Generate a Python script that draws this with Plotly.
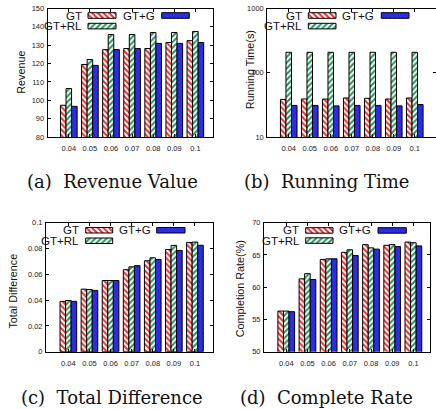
import plotly.graph_objects as go

# ---- data -------------------------------------------------------------
ratios = ["0.04", "0.05", "0.06", "0.07", "0.08", "0.09", "0.1"]

revenue_gt = [97.3, 119.5, 127.6, 128.2, 128.2, 131.5, 132.5]
revenue_rl = [106.4, 122.2, 135.8, 135.8, 136.9, 136.9, 137.5]
revenue_g = [96.7, 119.0, 127.6, 128.2, 131.0, 131.0, 131.5]

time_gt = [38.5, 39, 39, 40.5, 40, 39, 40.5]
time_rl = [208, 208, 208, 208, 208, 208, 208]
time_g = [31, 31, 30.5, 31, 31, 30.5, 32]

diff_gt = [0.0390, 0.0485, 0.0552, 0.0636, 0.0705, 0.0792, 0.0847]
diff_rl = [0.0397, 0.0482, 0.0552, 0.0658, 0.0728, 0.0824, 0.0850]
diff_g = [0.0390, 0.0475, 0.0552, 0.0667, 0.0715, 0.0785, 0.0825]

rate_gt = [56.3, 61.3, 64.3, 65.4, 66.6, 66.5, 67.0]
rate_rl = [56.3, 62.1, 64.4, 65.8, 66.1, 66.6, 66.9]
rate_g = [56.2, 61.2, 64.4, 64.9, 65.9, 66.3, 66.4]

series_names = ["GT", "GT+RL", "GT+G"]
y_titles = ["Revenue", "Running Time(s)", "Total Difference", "Completion Rate(%)"]
captions = ["(a)\u00a0\u00a0Revenue Value", "(b)\u00a0\u00a0Running Time",
            "(c)\u00a0\u00a0Total Difference", "(d)\u00a0\u00a0Complete Rate"]

W, H = 436, 409

RED, GREEN, BLUE = "#ee2b2b", "#23935a", "#2f2ff2"
patterns = {
    "GT": dict(shape="\\", fgcolor=RED, bgcolor="white", size=4, solidity=0.5, fillmode="replace"),
    "GT+RL": dict(shape="/", fgcolor=GREEN, bgcolor="white", size=4, solidity=0.5, fillmode="replace"),
    "GT+G": dict(shape="x", fgcolor="#1c1cb0", bgcolor=BLUE, size=3, solidity=0.25, fillmode="replace"),
}

# panel boxes in pixels: left, right, top, bottom, and x range in category units
panels = [
    dict(box=(47.7, 213.3, 8.5, 137.0), xr=[-1.0, 6.85]),
    dict(box=(267.3, 436.0, 8.5, 137.0), xr=[-1.02, 7.01]),
    dict(box=(46.0, 213.3, 222.7, 351.7), xr=[-1.06, 6.87]),
    dict(box=(264.0, 429.7, 222.7, 351.7), xr=[-1.05, 6.77]),
]
values = [
    (revenue_gt, revenue_rl, revenue_g),
    (time_gt, time_rl, time_g),
    (diff_gt, diff_rl, diff_g),
    (rate_gt, rate_rl, rate_g),
]
y_axes = [
    dict(range=[80, 150], dtick=10, type="linear"),
    dict(range=[1, 3], type="log", tickvals=[10, 100, 1000]),
    dict(range=[0, 0.1], type="linear", tickvals=[0, 0.02, 0.04, 0.06, 0.08, 0.1],
         ticktext=["0", "0.02", "0.04", "0.06", "0.08", "0.1"]),
    dict(range=[50, 70], dtick=5, type="linear"),
]

fig = go.Figure()
SANS = "Liberation Sans, Arial, sans-serif"
tick_font = dict(family=SANS, size=7.5, color="#222")
label_font = dict(family=SANS, size=10.8, color="#111")

for i, (panel, vals, yax) in enumerate(zip(panels, values, y_axes)):
    n = i + 1
    xa, ya = f"x{n}", f"y{n}"
    for name, v in zip(series_names, vals):
        fig.add_trace(go.Bar(
            x=ratios, y=v, name=name, xaxis=xa, yaxis=ya, showlegend=False,
            marker=dict(pattern=patterns[name], line=dict(color="black", width=1)),
        ))
    l, r, t, b = panel["box"]
    common = dict(showline=True, linecolor="black", linewidth=1, mirror="ticks",
                  ticks="inside", ticklen=3, tickcolor="black", tickfont=tick_font,
                  showgrid=False, zeroline=False, fixedrange=True)
    fig.layout[f"xaxis{n}"] = dict(domain=[l / W, min(r / W, 1.0)], anchor=ya,
                                   type="category", range=panel["xr"],
                                   ticklabelstandoff=4, **common)
    fig.layout[f"yaxis{n}"] = dict(domain=[1 - b / H, 1 - t / H], anchor=xa,
                                   ticklabelstandoff=1, **yax, **common)

# full-figure pixel frame used for legend keys
fig.update_layout(
    xaxis5=dict(domain=[0, 1], range=[0, W], visible=False, fixedrange=True, anchor="y5"),
    yaxis5=dict(domain=[0, 1], range=[H, 0], visible=False, fixedrange=True, anchor="x5"),
)

# legend layout per panel: (text right edge, key left, key right, key top, key bottom)
legend_rows = [
    {"GT": (83, 88, 116, 12.7, 18.3), "GT+RL": (83, 88, 116, 23.3, 28.9), "GT+G": (155.5, 161.7, 189.3, 12.7, 18.3)},
    {"GT": (303.3, 308.3, 336, 12.7, 18.3), "GT+RL": (303, 308.3, 336, 23.3, 28.9), "GT+G": (375, 381.3, 409, 12.7, 18.3)},
    {"GT": (80, 85.7, 112.7, 227.5, 233), "GT+RL": (80, 85.7, 112.7, 238, 243.5), "GT+G": (152, 156.7, 185, 227.5, 233)},
    {"GT": (300, 305.7, 333, 227.7, 233.2), "GT+RL": (301, 305.7, 333, 237.8, 243.3), "GT+G": (372, 378, 406.3, 227.7, 233.2)},
]
annotations = []
for rows in legend_rows:
    for name in series_names:
        tx, x0, x1, y0, y1 = rows[name]
        fig.add_trace(go.Scatter(
            x=[x0, x1, x1, x0, x0], y=[y0, y0, y1, y1, y0], xaxis="x5", yaxis="y5",
            mode="lines", fill="toself", fillpattern=patterns[name],
            line=dict(color="black", width=1), showlegend=False, hoverinfo="skip",
        ))
        annotations.append(dict(text=name, x=tx / W, y=1 - (y0 + y1) / 2 / H, xref="paper", yref="paper",
                                xanchor="right", yanchor="middle", showarrow=False, borderpad=0,
                                font=dict(family=SANS, size=11.5, color="#111")))

# y-axis titles
title_pos = [(20.7, 72), (250.3, 70), (13.3, 291.3), (240.3, 289)]
for text, (px, py) in zip(y_titles, title_pos):
    annotations.append(dict(text=text, x=px / W, y=1 - py / H, xref="paper", yref="paper",
                            xanchor="center", yanchor="middle", textangle=-90, showarrow=False,
                            font=label_font))

# panel captions
caption_pos = [(112, 181), (326, 181), (112, 397), (326, 397)]
for text, (px, py) in zip(captions, caption_pos):
    annotations.append(dict(text=text, x=px / W, y=1 - py / H, xref="paper", yref="paper",
                            xanchor="center", yanchor="middle", showarrow=False,
                            font=dict(family="DejaVu Serif, serif", size=18, color="#111")))

fig.update_layout(
    width=W, height=H, margin=dict(l=0, r=0, t=0, b=0),
    paper_bgcolor="white", plot_bgcolor="rgba(0,0,0,0)",
    barmode="group", bargap=0.21, bargroupgap=0.0,
    annotations=annotations, template="none",
)

fig.write_html("out.html")
